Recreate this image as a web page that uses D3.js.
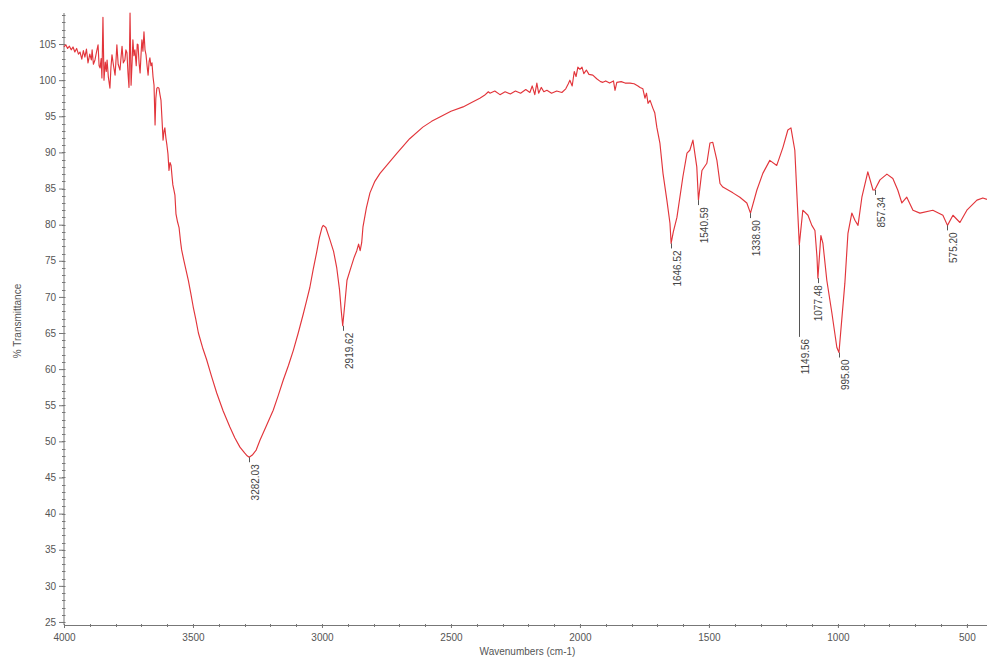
<!DOCTYPE html>
<html><head><meta charset="utf-8">
<script src="https://cdn.jsdelivr.net/npm/d3@7"></script>
<style>
html,body{margin:0;padding:0;background:#fff;}
svg{display:block;font-family:"Liberation Sans",Arial,sans-serif;}
</style></head>
<body>
<svg id="chart" width="987" height="659"></svg>
<script>
// ---- data ----
const wavenumbers = [
4000,3993,3986,3979,3972,3965,3958,3951,3944,3938,3931,3925,3919,3913,3907,3900,3894,3891,3886,3880,
3874,3868,3864,3860,3856,3853,3849,3845,3840,3836,3833,3828,3822,3818,3814,3808,3802,3798,3795,3790,
3783,3779,3775,3770,3764,3760,3756,3752,3748,3744,3740,3736,3733,3729,3725,3720,3716,3713,3709,3705,
3701,3698,3694,3690,3686,3682,3678,3674,3670,3667,3663,3659,3655,3651,3647,3644,3640,3636,3632,3628,
3624,3620,3616,3612,3609,3605,3601,3597,3593,3589,3585,3581,3578,3574,3570,3566,3560,3554,3548,3544,
3535,3525,3518,3509,3499,3489,3479,3463,3447,3428,3408,3383,3357,3338,3318,3300,3290,3282,3270,3255,
3240,3215,3189,3170,3150,3130,3111,3092,3072,3060,3047,3034,3021,3010,3000,2995,2985,2969,2955,2943,
2932,2925,2919.6,2912,2903,2890,2875,2865,2858,2852,2846,2841,2828,2814,2795,2775,2740,2709,2660,2609,
2575,2543,2500,2453,2420,2388,2370,2355,2349,2330,2310,2290,2270,2250,2230,2210,2194,2185,2175,2167,
2160,2150,2140,2128,2110,2090,2070,2055,2045,2039,2030,2022,2015,2008,2000,1992,1985,1975,1965,1950,
1935,1920,1911,1900,1885,1870,1864,1857,1840,1825,1806,1790,1775,1767,1756,1748,1742,1736,1728,1717,
1710,1702,1690,1678,1663,1651,1646.5,1638,1624,1601,1585,1574,1562,1547,1540.6,1527,1508,1496,1485,1469,
1457,1446,1407,1380,1353,1338.9,1314,1291,1264,1237,1213,1194,1182,1167,1149.6,1136,1116,1101,1089,1081,
1077.5,1066,1058,1043,1023,1004,995.8,973,961,946,934,922,907,884,864,857.3,837,810,787,768,
752,733,709,682,632,593,575.2,554,527,500,461,438,422
];
const transmittance = [
104.6,104.9,104.4,104.7,104.2,104.6,103.9,104.4,103.6,103.9,102.9,104.1,103.2,104.3,102.4,103.6,102.8,104.2,102.2,102.8,
103.9,104.9,102.0,101.7,103.0,100.3,108.7,100.0,102.5,101.2,102.8,100.4,98.9,101.8,103.5,102.0,100.7,103.0,104.9,102.2,
101.4,103.1,104.7,102.4,102.8,104.2,103.8,101.0,99.0,109.3,99.3,102.5,105.6,103.4,104.2,102.0,105.0,104.9,102.4,101.0,
103.8,105.6,104.0,106.7,104.2,103.5,102.0,100.7,102.6,103.1,102.0,102.4,100.5,99.3,93.8,97.5,98.9,99.0,98.9,98.0,
97.2,94.5,91.7,93.0,93.4,92.0,91.0,89.8,87.5,88.6,88.2,86.6,85.5,84.8,84.1,81.5,80.4,79.6,77.6,76.5,
75.0,73.4,72.3,70.6,68.6,66.9,65.0,63.0,61.3,59.0,56.7,54.2,52.0,50.5,49.2,48.4,48.0,47.8,48.1,48.8,
50.2,52.2,54.3,56.3,58.5,60.5,62.6,65.0,67.7,69.4,71.3,73.8,76.1,78.2,79.6,79.9,79.6,77.9,76.3,74.1,
71.0,68.0,66.0,68.8,72.3,73.8,75.5,76.4,77.3,76.4,77.5,79.7,82.3,84.4,86.0,87.1,88.6,89.9,91.9,93.5,
94.3,94.9,95.7,96.3,96.9,97.5,97.9,98.4,98.2,98.5,98.0,98.4,98.1,98.5,98.2,98.7,98.3,99.2,98.0,99.6,
98.2,99.0,98.4,98.6,98.2,98.5,98.3,98.8,99.5,100.0,99.2,101.2,100.5,101.8,101.5,101.8,100.9,101.4,100.8,100.7,
100.2,99.8,99.7,99.9,99.6,99.9,98.6,99.7,99.8,99.6,99.6,99.5,99.2,99.0,98.8,97.5,98.2,96.8,97.2,96.1,
95.5,93.5,91.3,87.1,83.4,80.2,77.4,79.0,81.0,86.6,89.9,90.3,91.7,88.0,83.4,87.5,88.5,91.3,91.4,88.9,
85.7,85.2,84.4,83.8,83.0,81.6,84.8,87.1,88.9,88.2,90.7,93.1,93.4,90.3,77.2,82.0,81.3,79.9,79.2,75.5,
72.6,78.5,77.4,72.3,67.7,63.0,62.3,71.9,78.8,81.6,80.6,79.9,83.8,87.3,84.8,84.8,86.2,87.0,86.4,84.8,
83.0,83.8,82.0,81.6,82.0,81.3,79.9,81.3,80.3,82.0,83.4,83.7,83.5
];
const peakWavenumbers = [3282.03,2919.62,1646.52,1540.59,1338.90,1149.56,1077.48,995.80,857.34,575.20];
const peakLabels = ["3282.03","2919.62","1646.52","1540.59","1338.90","1149.56","1077.48","995.80","857.34","575.20"];
const yTicks = [25,30,35,40,45,50,55,60,65,70,75,80,85,90,95,100,105];
const xTicks = [4000,3500,3000,2500,2000,1500,1000,500];

// ---- layout ----
const svg = d3.select("#chart");
const mLeft = 64, mRight = 987, mTop = 13, mBottom = 625;
const x = d3.scaleLinear().domain([4000, 422]).range([mLeft, mRight]);
const y = d3.scaleLinear().domain([24.58, 109.3]).range([mBottom, mTop]);
const axisColor = "#777", textColor = "#555";

// y axis
svg.append("line").attr("x1", mLeft).attr("x2", mLeft).attr("y1", mTop).attr("y2", mBottom)
  .attr("stroke", axisColor).attr("stroke-width", 1);
const yMinor = d3.range(25, 110, 1);
svg.append("g").selectAll("line").data(yMinor).join("line")
  .attr("x1", mLeft - 2).attr("x2", mLeft + 1.5)
  .attr("y1", d => Math.round(y(d)) + 0.5).attr("y2", d => Math.round(y(d)) + 0.5)
  .attr("stroke", axisColor).attr("stroke-width", 1);
const yAxis = d3.axisLeft(y).tickValues(yTicks).tickSize(5).tickPadding(3).tickFormat(d3.format("d"));
const gy = svg.append("g").attr("transform", `translate(${mLeft},0)`).call(yAxis);
gy.select(".domain").remove();
gy.selectAll(".tick line").attr("stroke", axisColor);
gy.selectAll(".tick text").attr("fill", textColor).style("font-size", "10px")
  .style("font-family", "'Liberation Sans',Arial,sans-serif");

// x axis
svg.append("line").attr("x1", mLeft).attr("x2", mRight).attr("y1", mBottom + 0.5).attr("y2", mBottom + 0.5)
  .attr("stroke", axisColor).attr("stroke-width", 1);
const xMinor = d3.range(4000, 421, -100);
svg.append("g").selectAll("line").data(xMinor).join("line")
  .attr("x1", d => Math.round(x(d)) + 0.5).attr("x2", d => Math.round(x(d)) + 0.5)
  .attr("y1", mBottom - 1).attr("y2", mBottom + 2)
  .attr("stroke", axisColor).attr("stroke-width", 1);
const xAxis = d3.axisBottom(x).tickValues(xTicks).tickSize(3).tickPadding(6).tickFormat(d3.format("d"));
const gx = svg.append("g").attr("transform", `translate(0,${mBottom})`).call(xAxis);
gx.select(".domain").remove();
gx.selectAll(".tick line").attr("stroke", axisColor);
gx.selectAll(".tick text").attr("fill", textColor).style("font-size", "10px")
  .style("font-family", "'Liberation Sans',Arial,sans-serif");

// axis titles
svg.append("text").attr("x", (mLeft + mRight) / 2 + 2).attr("y", 655).attr("text-anchor", "middle")
  .attr("fill", textColor).style("font-size", "10px").text("Wavenumbers (cm-1)");
svg.append("text").attr("transform", `translate(21,${(mTop + mBottom) / 2 + 2}) rotate(-90)`)
  .attr("text-anchor", "middle").attr("fill", textColor).style("font-size", "10px").text("% Transmittance");

// spectrum
const n = Math.min(wavenumbers.length, transmittance.length);
const pts = d3.range(n).map(i => [wavenumbers[i], transmittance[i]]);
svg.append("path").datum(pts)
  .attr("d", d3.line().x(d => x(d[0])).y(d => y(d[1])))
  .attr("fill", "none").attr("stroke", "#e2353b").attr("stroke-width", 1.15)
  .attr("stroke-linejoin", "round");

// peak labels
function valueAt(w) {
  let best = 0, bd = Infinity;
  for (let i = 0; i < n; i++) { const dd = Math.abs(wavenumbers[i] - w); if (dd < bd) { bd = dd; best = i; } }
  return transmittance[best];
}
const leaderLen = {"1149.56": 92};
const labelDx = {"1077.48": -6};
const gp = svg.append("g");
peakWavenumbers.forEach((w, i) => {
  const px = Math.round(x(w)) + 0.5;
  const py = y(valueAt(w));
  const lab = peakLabels[i];
  const len = leaderLen[lab] || 5;
  gp.append("line").attr("x1", px).attr("x2", px).attr("y1", py).attr("y2", py + len)
    .attr("stroke", "#555").attr("stroke-width", 1);
  gp.append("text")
    .attr("transform", `translate(${px + 9.5 + (labelDx[lab] || 0)},${py + len + 2}) rotate(-90)`)
    .attr("text-anchor", "end").attr("fill", "#444").style("font-size", "10px").text(lab);
});
</script>
</body></html>
